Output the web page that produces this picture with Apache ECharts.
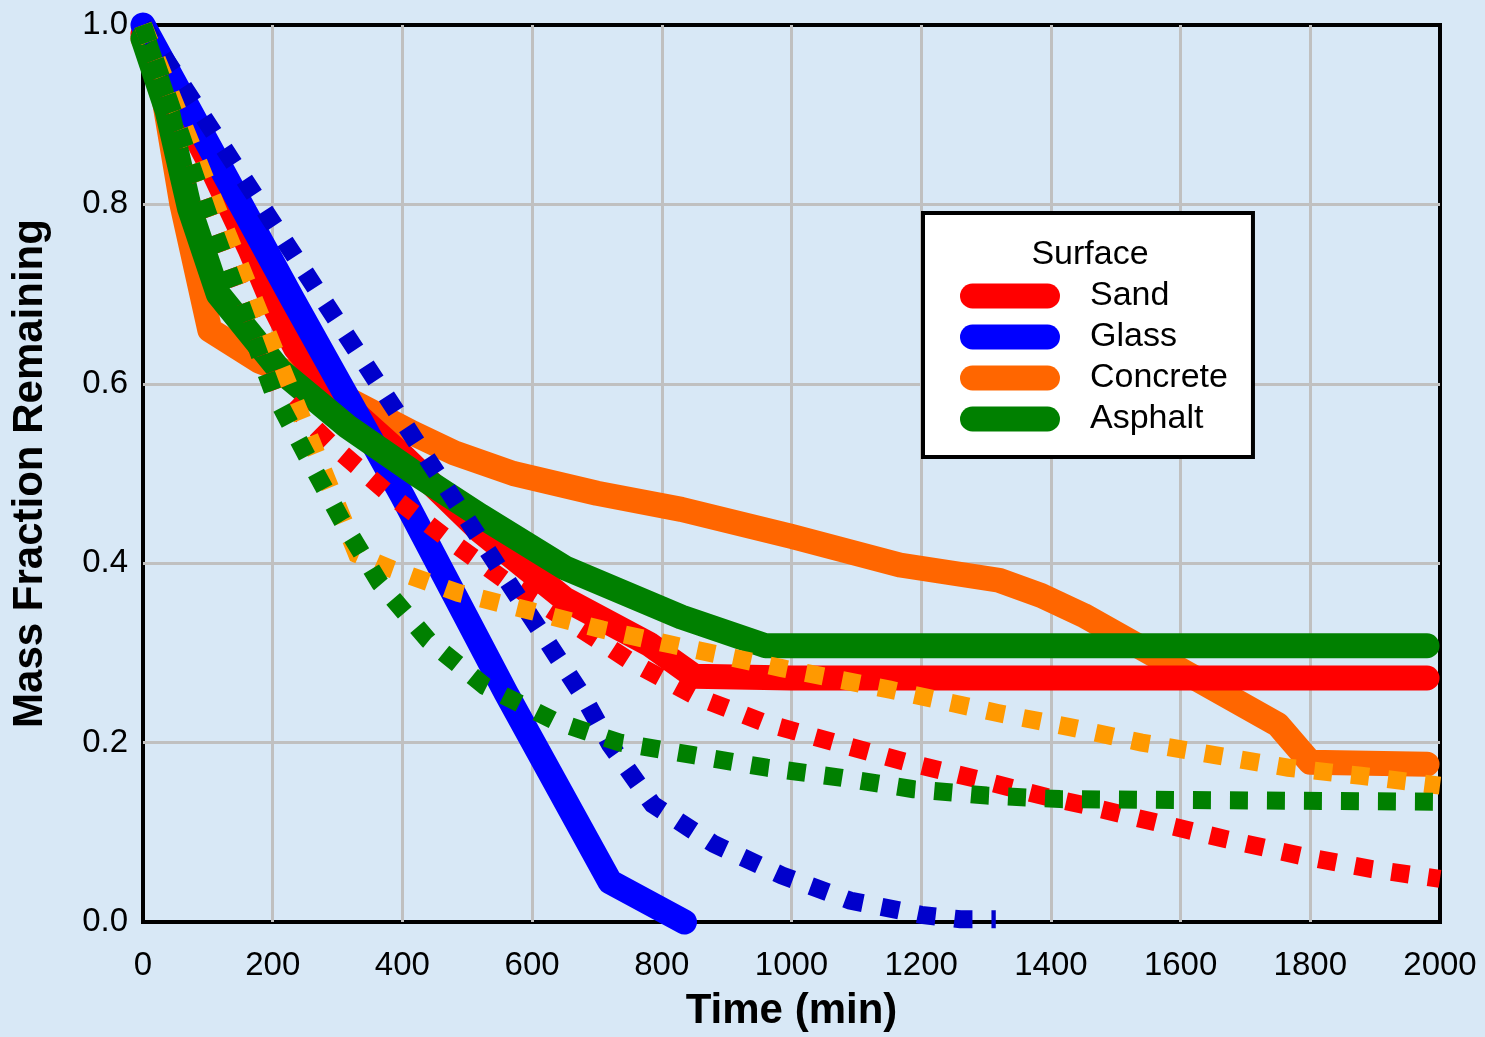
<!DOCTYPE html>
<html>
<head>
<meta charset="utf-8">
<title>Mass Fraction Remaining</title>
<script src="https://cdn.jsdelivr.net/npm/echarts@6/dist/echarts.min.js"></script>
<style>
html, body { margin: 0; padding: 0; background: #d8e8f6; }
#main { width: 1485px; height: 1037px; }
</style>
</head>
<body>
<div id="main"></div>
<script>
// surfaces shown in the legend
var surfaces = ['Sand', 'Glass', 'Concrete', 'Asphalt'];

// [time (min), mass fraction remaining] - thick solid curves
var sandSolid = [[0,0.99],[100,0.85],[165,0.75],[200,0.69],[235,0.64],[300,0.585],[400,0.52],[520,0.436],[650,0.36],[780,0.31],[850,0.274],[1000,0.272],[1980,0.272]];
var glassSolid = [[0,1.0],[230,0.695],[400,0.475],[560,0.255],[720,0.045],[835,0.0]];
var concreteSolid = [[0,0.985],[25,0.95],[60,0.80],[103,0.66],[180,0.625],[270,0.60],[416,0.545],[480,0.523],[571,0.50],[700,0.478],[830,0.46],[1000,0.43],[1167,0.398],[1320,0.381],[1385,0.364],[1450,0.342],[1750,0.22],[1800,0.178],[1980,0.176]];
var asphaltSolid = [[0,0.985],[37,0.905],[72,0.795],[116,0.70],[211,0.615],[314,0.553],[420,0.50],[520,0.453],[650,0.395],[830,0.34],[960,0.308],[1980,0.308]];

// dotted curves
var sandDotted = [[0,1.0],[210,0.59],[293,0.531],[378,0.478],[468,0.428],[558,0.381],[655,0.336],[751,0.291],[851,0.252],[959,0.222],[1067,0.20],[1178,0.178],[1288,0.159],[1396,0.139],[1453,0.13],[1562,0.111],[1672,0.092],[1784,0.074],[1895,0.059],[2000,0.048]];
var glassDotted = [[0,1.0],[680,0.25],[720,0.198],[786,0.131],[880,0.087],[985,0.052],[1090,0.024],[1200,0.008],[1260,0.003],[1315,0.003]];
var concreteDotted = [[0,1.0],[330,0.41],[381,0.394],[486,0.367],[597,0.347],[708,0.326],[816,0.309],[985,0.283],[1152,0.259],[1318,0.233],[1431,0.217],[1540,0.20],[1653,0.186],[1766,0.172],[1878,0.163],[2000,0.152]];
var asphaltDotted = [[0,1.0],[100,0.79],[200,0.592],[253,0.519],[307,0.447],[365,0.378],[440,0.314],[527,0.263],[635,0.224],[735,0.20],[849,0.186],[962,0.172],[1075,0.161],[1188,0.148],[1301,0.141],[1414,0.137],[2000,0.134]];

var FONT = 'Liberation Sans, Arial, sans-serif';

var myChart = echarts.init(document.getElementById('main'));

function solid(name, color, data) {
    return {
        name: name,
        type: 'line',
        data: data,
        symbol: 'none',
        clip: false,
        color: color,
        itemStyle: { color: color },
        lineStyle: { color: color, width: 25, cap: 'round', join: 'round' }
    };
}

function dotted(name, color, data) {
    return {
        name: name + ' (dotted)',
        type: 'line',
        data: data,
        symbol: 'none',
        clip: false,
        color: color,
        itemStyle: { color: color },
        lineStyle: { color: color, width: 18, type: [18, 19], cap: 'butt', join: 'miter' }
    };
}

option = {
    backgroundColor: '#d8e8f6',
    animation: false,
    textStyle: { fontFamily: FONT },
    grid: {
        left: 143, right: 45, top: 25, bottom: 112,
        show: true,
        borderColor: '#000',
        borderWidth: 4,
        backgroundColor: 'transparent'
    },
    xAxis: {
        type: 'value',
        min: 0, max: 2000, interval: 200,
        name: 'Time (min)',
        nameLocation: 'middle',
        nameGap: 68,
        nameTextStyle: { fontSize: 42, fontWeight: 'bold', color: '#000', fontFamily: FONT },
        axisLine: { show: false },
        axisTick: { show: false },
        axisLabel: {
            fontSize: 33, color: '#000', margin: 27, fontFamily: FONT,
            formatter: function (v) { return String(v); }
        },
        splitLine: { show: true, showMinLine: false, showMaxLine: false, lineStyle: { color: '#c0c0c0', width: 3 } }
    },
    yAxis: {
        type: 'value',
        min: 0, max: 1, interval: 0.2,
        name: 'Mass Fraction Remaining',
        nameLocation: 'middle',
        nameGap: 92,
        nameTextStyle: { fontSize: 42, fontWeight: 'bold', color: '#000', fontFamily: FONT },
        axisLine: { show: false },
        axisTick: { show: false },
        axisLabel: {
            fontSize: 33, color: '#000', margin: 15, fontFamily: FONT,
            formatter: function (v) { return v.toFixed(1); }
        },
        splitLine: { show: true, showMinLine: false, showMaxLine: false, lineStyle: { color: '#c0c0c0', width: 3 } }
    },
    legend: {
        data: surfaces,
        orient: 'vertical',
        left: 923,
        top: 213,
        padding: [66, 25, 21, 37],
        itemWidth: 100,
        itemHeight: 25,
        itemGap: 7,
        icon: 'path://M12.5,0L87.5,0A12.5,12.5,0,0,1,87.5,25L12.5,25A12.5,12.5,0,0,1,12.5,0Z',
        backgroundColor: '#fff',
        borderColor: '#000',
        borderWidth: 4,
        borderRadius: 0,
        itemStyle: { borderWidth: 0 },
        textStyle: { fontSize: 34, color: '#000', fontFamily: FONT, padding: [0, 0, 0, 25] }
    },
    graphic: [{
        type: 'text',
        x: 1090,
        y: 255,
        z: 100,
        style: {
            text: 'Surface',
            fontSize: 34,
            fontFamily: FONT,
            fill: '#000',
            textAlign: 'center',
            textVerticalAlign: 'middle'
        }
    }],
    series: [
        solid('Concrete', '#ff6600', concreteSolid),
        solid('Sand', '#ff0000', sandSolid),
        solid('Glass', '#0000ff', glassSolid),
        solid('Asphalt', '#008000', asphaltSolid),
        dotted('Sand', '#ff0000', sandDotted),
        dotted('Glass', '#0000cc', glassDotted),
        dotted('Concrete', '#ff9900', concreteDotted),
        dotted('Asphalt', '#008000', asphaltDotted)
    ]
};
myChart.setOption(option);

window.addEventListener('resize', function () {
    myChart.resize();
});
</script>
</body>
</html>
